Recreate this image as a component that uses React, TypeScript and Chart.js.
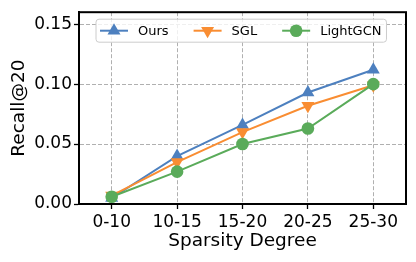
import React, { useEffect, useRef } from 'react';
import { Chart, registerables } from 'chart.js';

Chart.register(...registerables);

const categories = ['0-10', '10-15', '15-20', '20-25', '25-30'];
const oursValues = [0.005, 0.040, 0.066, 0.093, 0.112];
const sglValues = [0.007, 0.035, 0.060, 0.082, 0.099];
const lightgcnValues = [0.006, 0.027, 0.050, 0.063, 0.100];
const seriesNames = ['Ours', 'SGL', 'LightGCN'];
const yMin = 0;
const yMax = 0.16;
const yStep = 0.05;
const xTitle = 'Sparsity Degree';
const yTitle = 'Recall@20';

const BLUE = '#4d80bf';
const ORANGE = '#f98d32';
const GREEN = '#5aab5a';
const FONT = 'DejaVu Sans';

const framePlugin = {
  id: 'frame',
  afterDatasetsDraw(chart: any) {
    const { ctx, chartArea } = chart;
    ctx.save();
    ctx.strokeStyle = '#000';
    ctx.lineWidth = 2;
    ctx.setLineDash([]);
    ctx.strokeRect(chartArea.left, chartArea.top, chartArea.right - chartArea.left, chartArea.bottom - chartArea.top);
    ctx.restore();
  },
};

const legendPlugin = {
  id: 'innerLegend',
  afterDraw(chart: any) {
    const { ctx, chartArea } = chart;
    ctx.save();
    ctx.font = `13px "${FONT}"`;
    const left = chartArea.left + 17;
    const top = chartArea.top + 7;
    const h = 23;
    const cy = top + h / 2;
    const items = chart.data.datasets.map((ds: any) => ({ ds, w: ctx.measureText(ds.label).width }));
    let x = left + 4;
    const positions: number[] = [];
    items.forEach((it: any, i: number) => {
      positions.push(x);
      x += 38 + it.w + (i < items.length - 1 ? 25 : 0);
    });
    const right = x + 5;
    // box
    const r = 3;
    ctx.beginPath();
    ctx.moveTo(left + r, top);
    ctx.lineTo(right - r, top);
    ctx.quadraticCurveTo(right, top, right, top + r);
    ctx.lineTo(right, top + h - r);
    ctx.quadraticCurveTo(right, top + h, right - r, top + h);
    ctx.lineTo(left + r, top + h);
    ctx.quadraticCurveTo(left, top + h, left, top + h - r);
    ctx.lineTo(left, top + r);
    ctx.quadraticCurveTo(left, top, left + r, top);
    ctx.closePath();
    ctx.fillStyle = 'rgba(255,255,255,0.8)';
    ctx.fill();
    ctx.strokeStyle = '#cccccc';
    ctx.lineWidth = 1;
    ctx.stroke();
    items.forEach((it: any, i: number) => {
      const px = positions[i];
      const ds = it.ds;
      ctx.strokeStyle = ds.borderColor;
      ctx.lineWidth = 2;
      ctx.beginPath();
      ctx.moveTo(px, cy);
      ctx.lineTo(px + 28, cy);
      ctx.stroke();
      (Chart as any).helpers
        ? null
        : null;
      drawMarker(ctx, ds.pointStyle, ds.pointRotation || 0, ds.pointRadius, px + 14, cy, ds.borderColor);
      ctx.fillStyle = '#000';
      ctx.textBaseline = 'middle';
      ctx.textAlign = 'left';
      ctx.fillText(ds.label, px + 38, cy + 1);
    });
    ctx.restore();
  },
};

function drawMarker(ctx: CanvasRenderingContext2D, style: string, rotDeg: number, radius: number, x: number, y: number, color: string) {
  ctx.save();
  ctx.fillStyle = color;
  ctx.beginPath();
  if (style === 'circle') {
    ctx.arc(x, y, radius, 0, Math.PI * 2);
  } else {
    const rad = (rotDeg * Math.PI) / 180;
    for (let k = 0; k < 3; k++) {
      const a = rad + (k * 2 * Math.PI) / 3;
      const vx = x + Math.sin(a) * radius;
      const vy = y - Math.cos(a) * radius;
      if (k === 0) ctx.moveTo(vx, vy);
      else ctx.lineTo(vx, vy);
    }
    ctx.closePath();
  }
  ctx.fill();
  ctx.restore();
}

export default function App() {
  const canvasRef = useRef<HTMLCanvasElement | null>(null);

  useEffect(() => {
    const canvas = canvasRef.current;
    if (!canvas) return;
    const mk = (label: string, data: number[], color: string, style: string, rot: number, radius: number, order: number) => ({
      label,
      data,
      borderColor: color,
      backgroundColor: color,
      pointBackgroundColor: color,
      pointBorderColor: color,
      pointBorderWidth: 0,
      pointStyle: style,
      pointRotation: rot,
      pointRadius: radius,
      borderWidth: 2,
      tension: 0,
      order,
      clip: false as any,
    });
    const chart = new Chart(canvas, {
      type: 'line',
      data: {
        labels: categories,
        datasets: [
          mk(seriesNames[0], oursValues, BLUE, 'triangle', 0, 7.5, 3),
          mk(seriesNames[1], sglValues, ORANGE, 'triangle', 180, 7.5, 2),
          mk(seriesNames[2], lightgcnValues, GREEN, 'circle', 0, 6.3, 1),
        ],
      },
      options: {
        animation: false,
        responsive: false,
        devicePixelRatio: 1,
        layout: { padding: { left: 0, right: 10, top: 10, bottom: 0 } },
        plugins: {
          legend: { display: false },
          tooltip: { enabled: false },
        },
        scales: {
          x: {
            type: 'category',
            offset: true,
            afterFit: (s: any) => { s.height = 58; },
            grid: {
              color: '#b0b0b0',
              lineWidth: 1,
              tickColor: '#000',
              tickLength: 5,
              tickWidth: 1.3,
              tickBorderDash: [],
              offset: false,
            },
            border: { display: true, color: '#000', width: 2, dash: [4, 2] },
            ticks: { color: '#000', font: { family: FONT, size: 17 }, padding: 3, maxRotation: 0 },
            title: {
              display: true,
              text: xTitle,
              color: '#000',
              font: { family: FONT, size: 18.5 },
              padding: { top: 0, bottom: 10 },
            },
          },
          y: {
            min: yMin,
            max: yMax,
            afterFit: (s: any) => { s.width = 79; },
            grid: {
              color: '#b0b0b0',
              lineWidth: 1,
              tickColor: '#000',
              tickLength: 5,
              tickWidth: 1.3,
              tickBorderDash: [],
            },
            border: { display: true, color: '#000', width: 2, dash: [4, 2] },
            ticks: {
              stepSize: yStep,
              includeBounds: false,
              color: '#000',
              font: { family: FONT, size: 17 },
              padding: 2,
              callback: (v: any) => Number(v).toFixed(2),
            },
            title: {
              display: true,
              text: yTitle,
              color: '#000',
              font: { family: FONT, size: 18.5 },
              padding: { top: 8, bottom: 0 },
            },
          },
        },
      } as any,
      plugins: [framePlugin, legendPlugin],
    });
    return () => chart.destroy();
  }, []);

  return (
    <div style={{ position: 'absolute', left: 0, top: 0, width: 416, height: 262, background: '#fff' }}>
      <canvas ref={canvasRef} width={416} height={262} style={{ width: 416, height: 262, display: 'block' }} />
    </div>
  );
}
